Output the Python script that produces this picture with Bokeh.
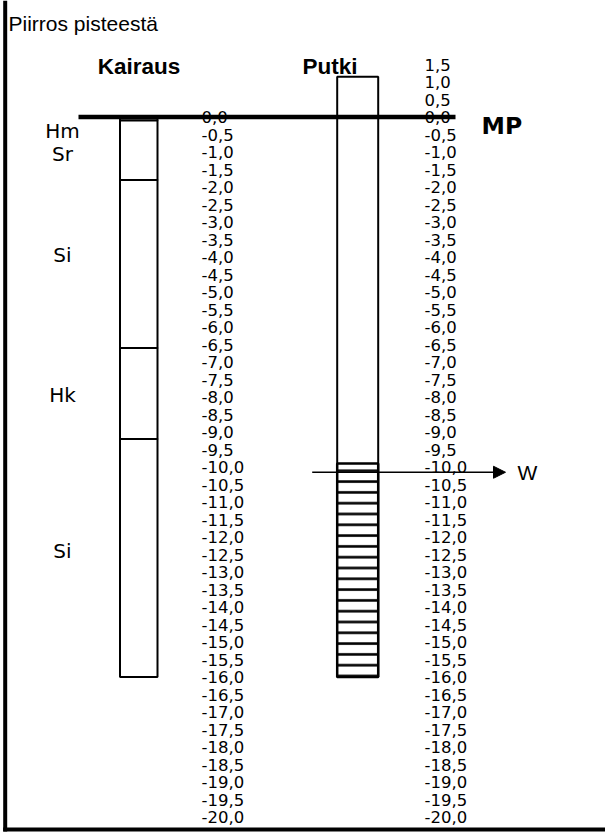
from bokeh.plotting import figure
from bokeh.models import Range1d, Arrow, NormalHead
from bokeh.core.properties import value
from bokeh.embed import file_html
from bokeh.resources import INLINE

# ---------------- data ----------------
left_tick_values = [0.0, -0.5, -1.0, -1.5, -2.0, -2.5, -3.0, -3.5, -4.0, -4.5,
                    -5.0, -5.5, -6.0, -6.5, -7.0, -7.5, -8.0, -8.5, -9.0, -9.5,
                    -10.0, -10.5, -11.0, -11.5, -12.0, -12.5, -13.0, -13.5, -14.0, -14.5,
                    -15.0, -15.5, -16.0, -16.5, -17.0, -17.5, -18.0, -18.5, -19.0, -19.5, -20.0]
left_tick_labels = ["0,0", "-0,5", "-1,0", "-1,5", "-2,0", "-2,5", "-3,0", "-3,5", "-4,0", "-4,5",
                    "-5,0", "-5,5", "-6,0", "-6,5", "-7,0", "-7,5", "-8,0", "-8,5", "-9,0", "-9,5",
                    "-10,0", "-10,5", "-11,0", "-11,5", "-12,0", "-12,5", "-13,0", "-13,5", "-14,0", "-14,5",
                    "-15,0", "-15,5", "-16,0", "-16,5", "-17,0", "-17,5", "-18,0", "-18,5", "-19,0", "-19,5", "-20,0"]
right_tick_values = [1.5, 1.0, 0.5] + left_tick_values
right_tick_labels = ["1,5", "1,0", "0,5"] + left_tick_labels

layer_names = ["Hm", "Sr", "Si", "Hk", "Si"]
layer_top = [0.0, -0.1, -1.8, -6.6, -9.2]
layer_bottom = [-0.1, -1.8, -6.6, -9.2, -16.0]
layer_label_depth = [-0.4, -1.05, -3.95, -7.95, -12.4]

pipe_top = 1.15
pipe_bottom = -16.0
screen_top = -9.9
water_level = -10.15
mp_level = 0.0

# ---------------- layout helpers ----------------
W_FIG, H_FIG = 605, 832
Y0 = 116.5      # pixel row of depth 0
PX = 35.0       # pixels per metre


def dy(pix_y):
    return (Y0 - pix_y) / PX


p = figure(width=W_FIG, height=H_FIG,
           x_range=Range1d(0, W_FIG), y_range=Range1d(dy(H_FIG), dy(0)),
           output_backend="svg", toolbar_location=None,
           x_axis_type=None, y_axis_type=None, min_border=0,
           outline_line_color=None)
p.grid.visible = False
p.background_fill_color = "white"
p.border_fill_color = "white"

VER = value("DejaVu Sans")
ARI = value("Liberation Sans")

# frame borders (left and bottom)
p.segment(x0=[4.7], y0=[dy(0)], x1=[4.7], y1=[dy(831)], line_color="black", line_width=4)
p.segment(x0=[2.7], y0=[dy(829)], x1=[W_FIG], y1=[dy(829)], line_color="black", line_width=4)

# header text
p.text(x=[8], y=[dy(23)], text=["Piirros pisteestä"], text_font=ARI, text_font_size="21px",
       text_align="left", text_baseline="alphabetic", text_color="black")
p.text(x=[138.5], y=[dy(66)], text=["Kairaus"], text_font=ARI, text_font_size="22.5px",
       text_font_style="bold", text_align="center", text_baseline="alphabetic", text_color="black")
p.text(x=[302], y=[dy(66)], text=["Putki"], text_font=ARI, text_font_size="22.5px",
       text_font_style="bold", text_align="left", text_baseline="alphabetic", text_color="black")

# depth labels
p.text(x=[201] * len(left_tick_values), y=left_tick_values, text=left_tick_labels,
       text_font=VER, text_font_size="16.5px", text_align="left", text_baseline="middle",
       text_color="black")
p.text(x=[424] * len(right_tick_values), y=right_tick_values, text=right_tick_labels,
       text_font=VER, text_font_size="16.5px", text_align="left", text_baseline="middle",
       text_color="black")

# soil layers (Kairaus)
p.quad(left=119.5, right=157, top=layer_top, bottom=layer_bottom,
       fill_color="white", line_color="black", line_width=2)
p.text(x=[62] * len(layer_names), y=layer_label_depth, text=layer_names,
       text_font=VER, text_font_size="20px", text_align="center", text_baseline="middle",
       text_color="black")

# pipe (Putki)
p.quad(left=[336.7], right=[377.7], top=[pipe_top], bottom=[pipe_bottom],
       fill_color="white", line_color="black", line_width=2)
p.quad(left=[336.7], right=[377.7], top=[screen_top], bottom=[pipe_bottom],
       fill_color="white", line_color="black", line_width=2.5,
       hatch_pattern="horizontal_line", hatch_scale=10.8, hatch_weight=2.6,
       hatch_color="black")

# MP line and label
p.segment(x0=[78], y0=[mp_level], x1=[455], y1=[mp_level], line_color="black", line_width=4.5)
p.text(x=[481], y=[dy(125)], text=["MP"], text_font=VER, text_font_size="23.5px",
       text_font_style="bold", text_align="left", text_baseline="alphabetic", text_color="black")

# water level
p.add_layout(Arrow(end=NormalHead(size=12, fill_color="black", line_color="black", line_width=1),
                   x_start=311.7, y_start=water_level, x_end=505, y_end=water_level,
                   line_color="black", line_width=1.3))
p.text(x=[517], y=[water_level], text=["W"], text_font=ARI, text_font_size="21px",
       text_align="left", text_baseline="middle", text_color="black")

open("out.html", "w").write(file_html(p, INLINE))
